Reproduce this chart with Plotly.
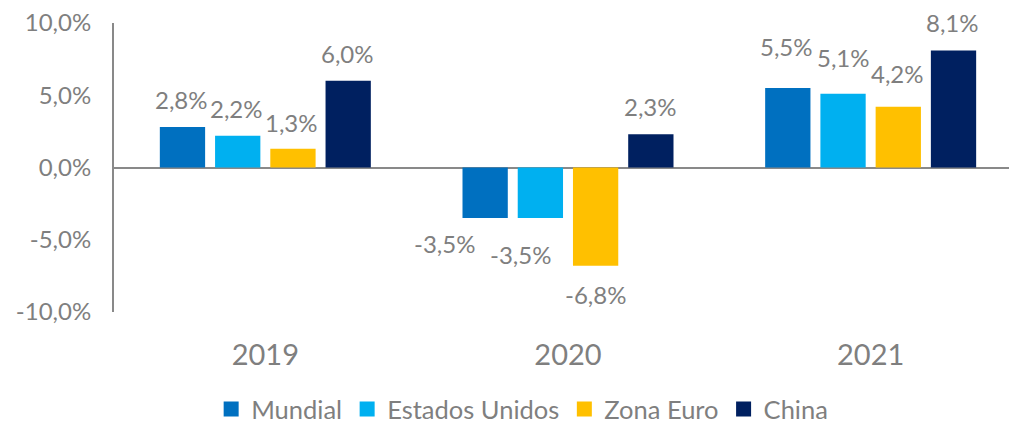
import plotly.graph_objects as go

# ---- data ----
years = ["2019", "2020", "2021"]
series_names = ["Mundial", "Estados Unidos", "Zona Euro", "China"]
mundial = [2.8, -3.5, 5.5]
estados_unidos = [2.2, -3.5, 5.1]
zona_euro = [1.3, -6.8, 4.2]
china = [6.0, 2.3, 8.1]
y_ticks = [-10, -5, 0, 5, 10]

# ---- style ----
colors = ["#0070C0", "#00B0F0", "#FFC000", "#002060"]
label_dx = [[-1, -41, -1], [-1, -20, 0], [-1, 0, -1], [-1, 0, -1]]
label_dy = [[-28, 25, -42], [-27, 36, -36], [-26, 29, -33], [-27, -28, -28]]
grey = "#7F7F7F"
axis_grey = "#898989"
font_family = "Lato, 'Open Sans', sans-serif"

def pct(v):
    return f"{v:.1f}%".replace(".", ",")

all_series = [mundial, estados_unidos, zona_euro, china]
bargap = 0.27
slot = (1 - bargap) / len(all_series)

fig = go.Figure()
for name, vals, col in zip(series_names, all_series, colors):
    fig.add_trace(go.Bar(x=years, y=vals, name=name, marker=dict(color=col, line=dict(width=0)),
                         showlegend=False, hoverinfo="skip"))
    fig.add_trace(go.Scatter(x=[None], y=[None], mode="markers", name=name,
                             marker=dict(symbol="square", size=15, color=col)))

annotations = []
for si, vals in enumerate(all_series):
    for ci, v in enumerate(vals):
        annotations.append(dict(
            x=ci + (si - (len(all_series) - 1) / 2) * slot, y=v, xref="x", yref="y",
            text=pct(v), showarrow=False, xanchor="center", yanchor="middle",
            xshift=label_dx[si][ci], yshift=-label_dy[si][ci],
            font=dict(family=font_family, size=24, color=grey)))

# page body has an 8px default margin: figure offset compensated in the margins
fig.update_layout(
    template="none",
    width=1009, height=432,
    margin=dict(l=106, r=0, t=15, b=128, autoexpand=False),
    paper_bgcolor="white", plot_bgcolor="white",
    barmode="group", bargap=bargap, bargroupgap=0.18,
    font=dict(family=font_family, color=grey, size=24),
    annotations=annotations,
    legend=dict(orientation="h", x=0.452, xanchor="center", y=-0.337, yanchor="middle",
                font=dict(family=font_family, size=25.5, color=grey), itemclick=False,
                bgcolor="rgba(0,0,0,0)", borderwidth=0),
    xaxis=dict(type="category", range=[-0.5, 2.4835], showline=False, showgrid=False,
               zeroline=False, ticks="outside", ticklen=17, tickcolor="rgba(0,0,0,0)",
               tickfont=dict(size=29, color=grey), automargin=False),
    yaxis=dict(range=[-10, 10], tickvals=y_ticks, ticktext=[pct(t) for t in y_ticks],
               showgrid=False, showline=True, linecolor=axis_grey, linewidth=2,
               zeroline=True, zerolinecolor=axis_grey, zerolinewidth=2,
               ticks="outside", ticklen=16, tickcolor="rgba(0,0,0,0)",
               ticklabeloverflow="allow",
               tickfont=dict(size=24, color=grey), automargin=False),
)

fig.write_html("out.html")
